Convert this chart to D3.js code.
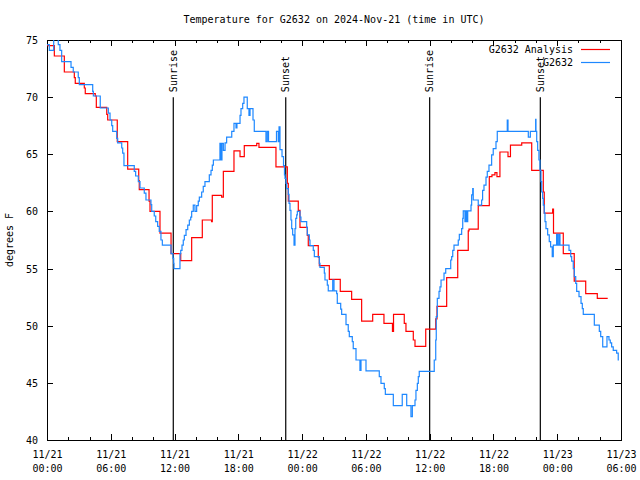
<!DOCTYPE html>
<html><head><meta charset="utf-8">
<script src="https://cdn.jsdelivr.net/npm/d3@7"></script>
<style>
body{margin:0;background:#fff;}
svg text{font-family:"DejaVu Sans Mono","Liberation Mono",monospace;font-size:10px;fill:#000;}
</style>
</head><body>
<svg id="chart" width="640" height="480"></svg>
<script>
// ---------- data ----------
const startTime = "2024-11-21T00:00:00Z";
const spanHours = 54;
const titleText = "Temperature for G2632 on 2024-Nov-21 (time in UTC)";
const yLabel = "degrees F";
const seriesNames = ["G2632 Analysis", "G2632"];
const seriesColors = ["#ff0000", "#1e88ff"];
const yTicks = [40, 45, 50, 55, 60, 65, 70, 75];

// analysis (hours since start, °F)
const anaHours = [0.00,0.69,1.63,2.57,2.66,3.51,3.60,4.54,4.64,5.62,5.71,6.61,7.59,8.63,8.68,9.60,9.69,10.63,
 11.67,12.58,13.61,14.61,15.48,15.55,16.43,16.59,17.59,18.16,18.56,19.73,19.94,21.54,22.61,22.70,23.64,23.80,
 24.49,24.58,25.52,25.62,26.56,27.59,28.66,29.60,30.64,31.70,32.50,32.60,33.61,33.77,34.46,34.62,35.63,36.57,
 36.69,37.60,38.64,39.63,39.70,40.57,41.61,41.86,42.14,42.33,42.61,43.37,43.60,44.66,45.60,46.69,46.78,47.57,
 47.65,48.57,49.60,50.68,51.77,52.75];
const anaTemps = [74.5,73.6,72.2,71.7,71.2,70.8,70.3,70.1,69.1,68.5,68.0,66.1,63.7,62.7,61.9,60.9,60.0,58.1,
 56.3,55.7,57.7,59.25,59.1,61.4,61.25,63.5,65.3,64.8,65.75,65.96,65.6,63.9,62.45,60.9,60.1,58.6,
 57.9,57.0,56.0,55.25,54.05,53.0,52.3,50.4,51.0,50.2,49.5,51.0,50.2,49.5,48.75,48.2,49.7,50.6,
 51.7,54.2,56.6,58.3,58.45,60.5,63.05,63.2,63.4,63.05,65.2,64.8,65.8,66.0,63.6,61.7,59.85,60.2,
 58.1,56.3,53.9,52.8,52.4,52.4];

// observations (hours since start, °F)
const obsHours = [0.00,0.22,0.63,1.06,1.22,1.38,2.26,2.47,2.94,3.04,4.30,4.36,5.01,5.77,5.93,6.09,6.18,6.56,6.65,
 7.03,7.12,7.24,8.21,8.34,8.59,8.75,9.15,9.31,9.78,9.85,10.09,10.23,10.41,10.56,10.72,10.85,11.67,11.85,11.92,
 11.95,12.51,12.58,12.70,12.82,12.92,13.08,13.24,13.39,13.52,13.61,13.76,13.92,14.08,14.23,14.33,14.55,14.70,
 14.86,15.27,15.43,15.55,15.65,16.27,16.37,16.46,16.59,16.75,16.90,17.38,17.59,17.78,17.87,18.16,18.25,18.41,
 18.53,18.84,19.00,19.10,19.38,19.50,20.60,20.72,20.84,21.59,21.76,21.83,21.92,22.11,22.25,22.34,22.39,22.48,
 22.55,22.70,22.77,22.86,22.95,23.02,23.11,23.24,23.33,23.40,23.49,23.55,23.80,23.89,24.43,24.49,24.68,24.74,
 25.05,25.15,25.62,25.68,26.09,26.15,26.37,26.46,26.88,27.00,27.25,27.31,27.63,27.72,28.13,28.34,28.44,28.72,
 28.81,29.07,29.44,29.54,30.01,31.26,31.42,31.73,31.83,32.58,33.42,33.84,34.24,34.37,34.62,34.71,34.84,34.93,
 35.02,36.43,36.57,36.62,36.72,36.88,36.97,37.07,37.35,37.51,37.98,38.07,38.17,38.29,38.69,38.79,39.01,39.11,
 39.16,39.32,39.41,39.51,39.58,39.89,39.95,40.05,40.10,40.57,40.89,40.98,41.11,41.30,41.42,41.58,41.83,41.98,
 42.24,42.36,43.30,43.37,45.28,45.47,45.97,46.00,46.07,46.16,46.28,46.38,46.47,46.54,46.63,46.69,46.78,46.85,
 46.94,47.10,47.25,47.38,47.53,47.63,47.94,48.04,48.16,48.26,49.11,49.27,49.36,49.51,49.61,49.74,49.83,50.05,
 50.24,50.36,50.45,51.49,51.96,52.09,52.28,52.68,52.87,52.99,53.12,53.27,53.59,53.74,53.80];
const obsTemps = [74.6,74.1,75.5,74.6,74.1,73.1,72.6,72.2,71.7,71.1,70.5,70.1,69.05,68.6,68.0,67.5,67.0,66.4,66.0,
 65.55,65.1,64.0,63.5,63.1,62.6,62.05,61.6,61.0,60.6,60.0,59.6,59.1,58.7,58.25,57.5,57.05,56.3,55.9,55.45,
 55.0,56.3,56.6,57.05,57.5,57.9,58.4,58.8,59.25,59.5,60.0,60.55,60.0,60.5,60.9,61.25,61.7,62.2,
 62.6,63.2,63.6,64.05,64.5,65.95,64.5,65.95,65.35,66.0,66.5,67.0,67.7,67.3,67.7,68.4,69.0,69.45,
 70.0,69.0,68.4,69.0,68.0,67.0,66.1,67.0,66.1,67.0,66.1,67.4,65.4,64.8,64.0,63.2,62.9,62.45,
 62.0,61.5,60.7,60.1,59.25,58.5,57.95,57.05,58.5,59.4,59.7,60.0,59.5,59.1,58.6,57.95,57.5,57.0,
 56.6,56.05,55.45,55.1,54.6,54.0,53.55,53.05,54.0,53.05,52.8,51.95,51.45,51.0,50.1,49.5,49.05,48.6,
 48.0,47.0,46.1,47.0,46.05,45.55,44.95,44.5,44.0,43.0,44.0,43.0,42.05,43.0,43.5,44.35,44.95,45.55,
 46.0,47.0,48.75,50.8,52.4,53.0,53.4,54.0,54.6,55.0,55.75,56.05,56.6,57.05,57.5,58.0,58.5,59.4,
 60.05,59.1,60.05,59.1,60.05,60.55,61.45,62.0,61.0,60.55,61.0,61.85,62.3,63.0,63.5,64.05,64.95,65.5,
 66.1,67.0,68.0,67.0,66.5,67.0,68.05,67.0,66.1,65.35,64.5,63.6,62.6,61.7,61.15,60.55,59.85,59.1,
 58.5,57.95,57.35,56.9,56.05,57.05,58.0,57.05,58.0,57.05,56.6,56.05,55.65,55.0,54.3,53.7,53.0,52.55,
 51.95,51.5,51.0,50.05,49.5,49.05,48.15,49.05,48.75,48.5,48.15,47.85,47.6,47.0,47.0];

// sun events (hours since start)
const sunLabels = ["Sunrise", "Sunset", "Sunrise", "Sunset"];
const sunHours = [11.88, 22.46, 36.0, 46.41];
const sunLineTop = 70;  // °F level where the marker line stops

// ---------- chart ----------
const W = 640, H = 480;
const L = 47, R = 621, T = 40, B = 440;
const t0 = new Date(startTime).getTime();
const toDate = h => new Date(t0 + h * 3600000);

const x = d3.scaleUtc().domain([toDate(0), toDate(spanHours)]).range([L, R]);
const y = d3.scaleLinear().domain([40, 75]).range([B, T]);

const svg = d3.select("#chart");
svg.append("rect").attr("width", W).attr("height", H).attr("fill", "#fff");

svg.append("defs").append("clipPath").attr("id", "plotclip")
  .append("rect").attr("x", L).attr("y", T).attr("width", R - L).attr("height", B - T);

const fmtDay = d3.utcFormat("%m/%d"), fmtTime = d3.utcFormat("%H:%M");
const majorTicks = d3.utcHour.every(6).range(toDate(0), toDate(spanHours + 0.01));
const minorTicks = d3.utcHour.every(2).range(toDate(0), toDate(spanHours + 0.01));

function styleAxis(g) {
  g.attr("font-family", null).attr("font-size", null);
  g.select(".domain").remove();
  g.selectAll(".tick line").attr("stroke", "#000").attr("shape-rendering", "crispEdges");
}

// minor ticks bottom/top
svg.append("g").attr("transform", `translate(0,${B})`)
  .call(d3.axisBottom(x).tickValues(minorTicks).tickSize(-3).tickSizeOuter(0).tickFormat(""))
  .call(styleAxis);
svg.append("g").attr("transform", `translate(0,${T})`)
  .call(d3.axisTop(x).tickValues(minorTicks).tickSize(-3).tickSizeOuter(0).tickFormat(""))
  .call(styleAxis);

// major ticks bottom with two-line labels
const xAxisG = svg.append("g").attr("transform", `translate(0,${B})`)
  .call(d3.axisBottom(x).tickValues(majorTicks).tickSize(-6).tickSizeOuter(0).tickPadding(14).tickFormat(d => fmtDay(d)))
  .call(styleAxis);
xAxisG.selectAll(".tick text").each(function(d) {
  const t = d3.select(this);
  t.text(null).attr("dy", null).attr("y", 18);
  t.append("tspan").attr("x", 0).attr("y", 18).text(fmtDay(d));
  t.append("tspan").attr("x", 0).attr("y", 32).text(fmtTime(d));
});
svg.append("g").attr("transform", `translate(0,${T})`)
  .call(d3.axisTop(x).tickValues(majorTicks).tickSize(-6).tickSizeOuter(0).tickFormat(""))
  .call(styleAxis);

// y axes
svg.append("g").attr("transform", `translate(${L},0)`)
  .call(d3.axisLeft(y).tickValues(yTicks).tickSize(-6).tickSizeOuter(0).tickPadding(9).tickFormat(d3.format("d")))
  .call(styleAxis)
  .selectAll(".tick text").attr("dy", "0.35em");
svg.append("g").attr("transform", `translate(${R},0)`)
  .call(d3.axisRight(y).tickValues(yTicks).tickSize(-6).tickSizeOuter(0).tickFormat(""))
  .call(styleAxis);

// frame
svg.append("rect").attr("x", L).attr("y", T).attr("width", R - L).attr("height", B - T)
  .attr("fill", "none").attr("stroke", "#000").attr("shape-rendering", "crispEdges");

// sun event markers
const sun = svg.append("g");
sunHours.forEach((h, i) => {
  sun.append("line").attr("x1", x(toDate(h))).attr("x2", x(toDate(h)))
    .attr("y1", y(40)).attr("y2", y(sunLineTop))
    .attr("stroke", "#000").attr("stroke-width", 1.2);
  sun.append("text")
    .attr("transform", `translate(${x(toDate(h))},${y(sunLineTop) - 5}) rotate(-90)`)
    .attr("dy", "0.35em").attr("text-anchor", "start").text(sunLabels[i]);
});

// series
const line = d3.line().x(d => x(toDate(d[0]))).y(d => y(d[1])).curve(d3.curveStepAfter);
const anaData = d3.zip(anaHours, anaTemps);
const obsData = d3.zip(obsHours, obsTemps);
const plot = svg.append("g").attr("clip-path", "url(#plotclip)");
[anaData, obsData].forEach((data, i) => {
  plot.append("path").datum(data).attr("d", line)
    .attr("fill", "none").attr("stroke", seriesColors[i]).attr("stroke-width", 1.2);
});

// legend
const leg = svg.append("g");
seriesNames.forEach((name, i) => {
  const ly = 49.5 + i * 13;
  leg.append("text").attr("x", 573).attr("y", ly).attr("dy", "0.35em")
    .attr("text-anchor", "end").text(name);
  leg.append("line").attr("x1", 581).attr("x2", 610).attr("y1", ly).attr("y2", ly)
    .attr("stroke", seriesColors[i]).attr("stroke-width", 1.2);
});

// title & y label
svg.append("text").attr("x", (L + R) / 2).attr("y", 23).attr("text-anchor", "middle").text(titleText);
svg.append("text").attr("transform", `translate(13,${(T + B) / 2}) rotate(-90)`)
  .attr("text-anchor", "middle").text(yLabel);
</script>
</body></html>
